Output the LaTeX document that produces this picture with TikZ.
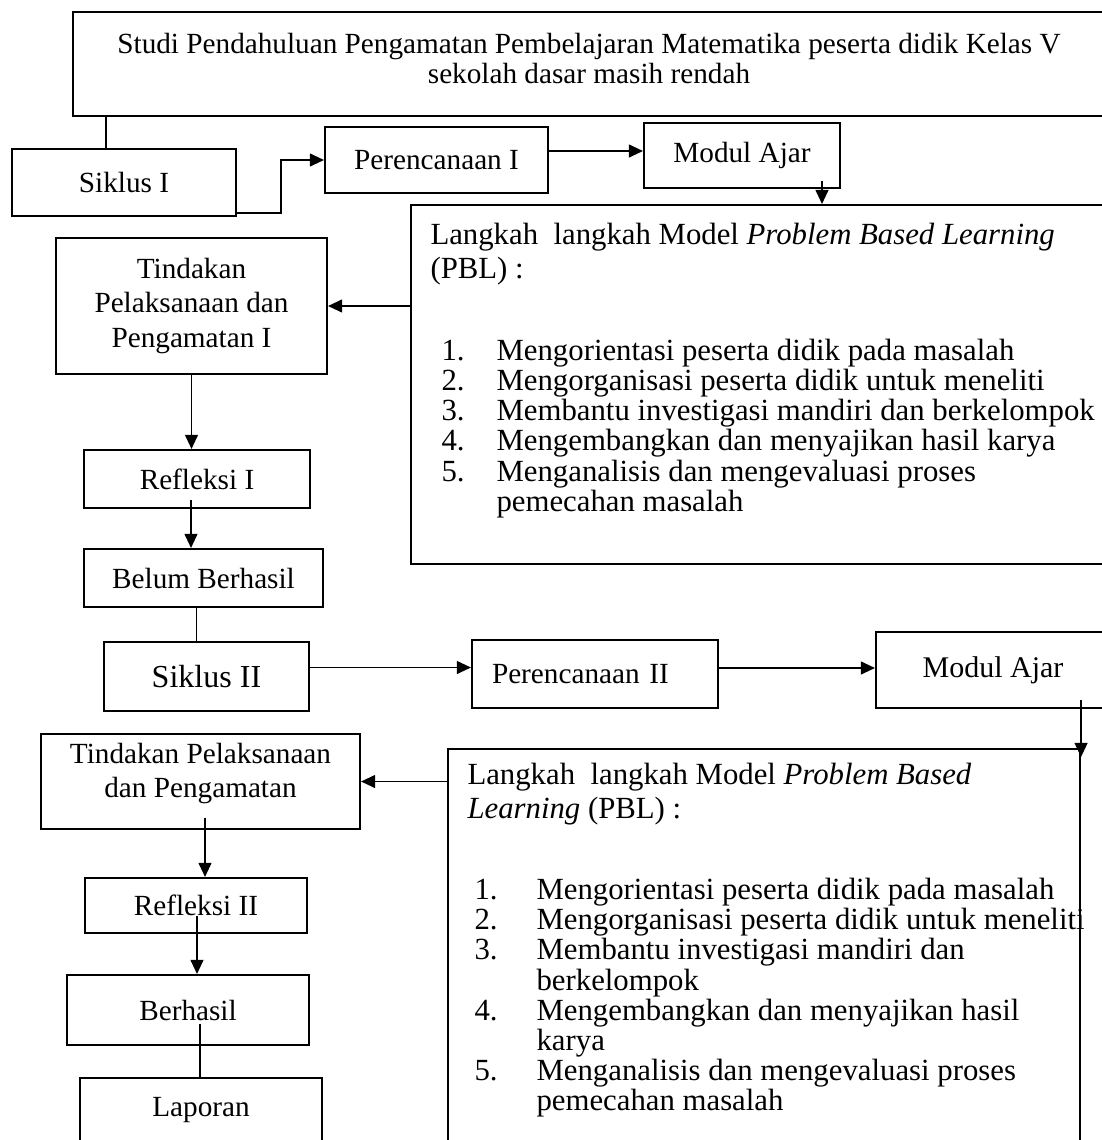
\documentclass[tikz,border=0pt]{standalone}
\usepackage{fontspec}
\setmainfont{Liberation Serif}
\usetikzlibrary{arrows.meta}

\newdimen\sat \sat=0.39pt
\tikzset{
  kotak/.style={draw,line width=0.8pt,inner sep=0pt,align=center},
  teks/.style={inner sep=0pt,anchor=north west,align=left},
  panah/.style={line width=0.7pt,-{Triangle[length=5.5pt,width=5pt]}},
  garis/.style={line width=0.7pt},
  every node/.style={font=\fontsize{11.4}{11.7}\selectfont},
}

\begin{document}
\begin{tikzpicture}[x=\sat,y=-\sat]
    \useasboundingbox (0,0) rectangle (1102,1140);
    \clip (0,0) rectangle (1102,1140);
    % siklus I
    \node[kotak,minimum width=1032*\sat,minimum height=104*\sat] (studi) at (589,64) {};
    \node[inner sep=0pt,align=center] (studiteks) at (589,58)
      {Studi Pendahuluan Pengamatan Pembelajaran Matematika peserta didik Kelas V\\sekolah dasar masih rendah};
    \node[kotak,minimum width=224*\sat,minimum height=67*\sat] (siklus1) at (124,182.5) {Siklus I};
    \node[kotak,minimum width=223*\sat,minimum height=66*\sat] (renc1) at (436.5,160) {Perencanaan I};
    \node[kotak,minimum width=196*\sat,minimum height=65*\sat] (modul1) at (742,155.5) {Modul Ajar};
    \node[kotak,anchor=north west,minimum width=710*\sat,minimum height=359*\sat] (pbl1) at (410,204) {};
    \node[teks,font=\fontsize{12}{13.3}\selectfont] (kepala1) at (430,223)
      {Langkah\ \ langkah Model \textit{Problem Based Learning}\\(PBL) :};
    \node[teks,font=\fontsize{12}{11.3}\selectfont] (daftar1) at (441,339)
      {\begin{tabular}{@{}l@{\hspace{32\sat}}l@{}}
        1. & Mengorientasi peserta didik pada masalah\\
        2. & Mengorganisasi peserta didik untuk meneliti\\
        3. & Membantu investigasi mandiri dan berkelompok\\
        4. & Mengembangkan dan menyajikan hasil karya\\
        5. & Menganalisis dan mengevaluasi proses\\
           & pemecahan masalah
      \end{tabular}};
    \node[kotak,minimum width=271*\sat,minimum height=136*\sat,font=\fontsize{11.4}{13.3}\selectfont] (tind1) at (191.5,306)
      {Tindakan\\Pelaksanaan dan\\Pengamatan I};
    \node[kotak,minimum width=226*\sat,minimum height=58*\sat] (refl1) at (197,479) {Refleksi I};
    \node[kotak,minimum width=239*\sat,minimum height=58*\sat] (belum) at (203.5,578) {Belum Berhasil};
    % siklus II
    \node[kotak,minimum width=205*\sat,minimum height=69*\sat,font=\fontsize{12.5}{14}\selectfont] (siklus2) at (206.5,676.5) {Siklus II};
    \node[kotak,minimum width=246*\sat,minimum height=68*\sat,text width=206*\sat,align=left] (renc2) at (595,674) {Perencanaan II};
    \node[kotak,minimum width=234*\sat,minimum height=76*\sat,font=\fontsize{11.7}{12}\selectfont] (modul2) at (993,670) {Modul Ajar};
    \node[kotak,anchor=north west,minimum width=632*\sat,minimum height=420*\sat] (pbl2) at (447,748) {};
    \node[teks,font=\fontsize{12}{13.3}\selectfont] (kepala2) at (467,763)
      {Langkah\ \ langkah Model \textit{Problem Based}\\\textit{Learning} (PBL) :};
    \node[teks,font=\fontsize{12}{11.3}\selectfont] (daftar2) at (474,878)
      {\begin{tabular}{@{}l@{\hspace{39\sat}}l@{}}
        1. & Mengorientasi peserta didik pada masalah\\
        2. & Mengorganisasi peserta didik untuk meneliti\\
        3. & Membantu investigasi mandiri dan\\
           & berkelompok\\
        4. & Mengembangkan dan menyajikan hasil\\
           & karya\\
        5. & Menganalisis dan mengevaluasi proses\\
           & pemecahan masalah
      \end{tabular}};
    \node[kotak,minimum width=319*\sat,minimum height=95*\sat] (tind2) at (200.5,781.5) {};
    \node[inner sep=0pt,align=center,font=\fontsize{11.4}{12.9}\selectfont] (tind2teks) at (200.5,773.5)
      {Tindakan Pelaksanaan\\dan Pengamatan};
    \node[kotak,minimum width=222*\sat,minimum height=55*\sat] (refl2) at (196,905.5) {Refleksi II};
    \node[kotak,minimum width=242*\sat,minimum height=70*\sat] (berhasil) at (188,1010) {Berhasil};
    \node[kotak,minimum width=242*\sat,minimum height=64*\sat] (laporan) at (201,1110) {Laporan};

    % penghubung
    \coordinate (s1) at ([xshift=-18*\sat]siklus1.north);
    \draw[garis] (s1) -- (s1 |- studi.south);
    \draw[panah] ([yshift=4*\sat]siklus1.south east) -- ++(44,0) |- (renc1.west);
    \coordinate (r1) at ([yshift=9*\sat]renc1.east);
    \draw[panah] (r1) -- (r1 -| modul1.west);
    \coordinate (m1) at ([xshift=80*\sat,yshift=8*\sat]modul1.south);
    \draw[panah] (m1) -- (m1 |- pbl1.north);
    \draw[panah] (pbl1.west |- tind1.east) -- (tind1.east);
    \draw[panah] (tind1.south) -- (tind1.south |- refl1.north);
    \coordinate (f1) at ([xshift=-6*\sat,yshift=9*\sat]refl1.south);
    \draw[panah] (f1) -- (f1 |- belum.north);
    \coordinate (b1) at ([xshift=-7*\sat]belum.south);
    \draw[garis] (b1) -- (b1 |- siklus2.north);
    \coordinate (s2) at ([yshift=9*\sat]siklus2.east);
    \draw[panah] (s2) -- (s2 -| renc2.west);
    \coordinate (r2) at ([yshift=6*\sat]renc2.east);
    \draw[panah] (r2) -- (r2 -| modul2.west);
    \coordinate (m2) at ([yshift=9*\sat]modul2.south);
    \draw[panah] (m2 -| pbl2.east) -- ([yshift=-9*\sat]pbl2.north east);
    \draw[panah] (pbl2.west |- tind2.east) -- (tind2.east);
    \coordinate (t2) at ([xshift=4.5*\sat,yshift=12*\sat]tind2.south);
    \draw[panah] (t2) -- (t2 |- refl2.north);
    \coordinate (f2) at ([xshift=1*\sat,yshift=18*\sat]refl2.south);
    \draw[panah] (f2) -- (f2 |- berhasil.north);
    \coordinate (h2) at ([xshift=12*\sat,yshift=22*\sat]berhasil.south);
    \draw[garis] (h2) -- (h2 |- laporan.north);
\end{tikzpicture}
\end{document}
